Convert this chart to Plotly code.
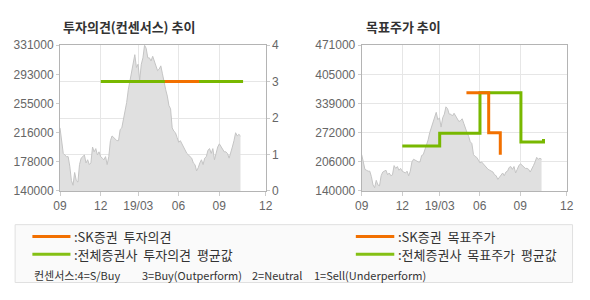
import numpy as np
import plotly.graph_objects as go

# ---------------- data ----------------
# share price (trading-day series, Sep 2018 .. Oct 2019)
price = [222600, 205900, 189200, 187000, 185000, 185000, 172500, 153800, 147500, 164200,
         153800, 151700, 174600, 183000, 185000, 187100, 176700, 180900, 174600, 176700,
         197600, 191300, 195500, 187100, 191300, 185000, 183000, 180900, 185000, 174600,
         185000, 205900, 212100, 210100, 208000, 205900, 205900, 220500, 222600, 233000,
         243400, 255900, 272600, 283000, 295600, 306000, 318500, 301800, 306000, 285100,
         306000, 314300, 331000, 326800, 314300, 314300, 310200, 316400, 310200, 303900,
         297600, 299700, 303900, 293500, 281000, 272600, 264300, 251800, 247600, 222600,
         218400, 216300, 210100, 203800, 205900, 201700, 195500, 191300, 189200, 187100,
         185000, 183000, 176700, 174600, 166300, 170400, 176700, 180900, 174600, 183000,
         185000, 193400, 195500, 189200, 195500, 180900, 189200, 197600, 201700, 197600,
         195500, 191300, 191300, 189200, 183000, 189200, 197600, 205900, 216300, 212100,
         214200, 212100]
price_end_day = 279  # last trading-day index of the price series

# x-axis ticks (trading-day index) and labels
tick_days = [0, 63, 121, 183, 246, 318]
tick_labels = ["09", "12", "19/03", "06", "09", "12"]

# investment opinion (consensus scale 0..4)
sk_op_days = [162, 215]
sk_op_vals = [3, 3]
avg_op_days = [63, 283]
avg_op_vals = [3, 3]

# target price
sk_tp_days = [162.5, 197, 215]
sk_tp_vals = [363000, 272000, 222000]
avg_tp_days = [63, 121, 183.5, 247, 282]
avg_tp_vals = [242000, 271000, 363000, 251000, 258000]

left_price_ticks = [140000, 178000, 216000, 255000, 293000, 331000]
right_price_ticks = [140000, 206000, 272000, 339000, 405000, 471000]
opinion_ticks = [0, 1, 2, 3, 4]

ORANGE = "#f27000"
GREEN = "#78b800"
GREEN_LEG = "#84c014"
AREA_FILL = "#e0e0e0"
AREA_LINE = "#c4c4c4"
GRID = "#e6e6e6"
AXIS = "#b4b4b4"
TICKC = "#666666"

W, H = 590, 300
FONT = "Liberation Sans, Arial, sans-serif"
KFONT = "Noto Sans CJK KR, sans-serif"

x_price = np.linspace(0, price_end_day, len(price))

fig = go.Figure()

# ---- left chart ----
fig.add_trace(go.Scatter(x=x_price, y=price, xaxis="x", yaxis="y",
                         mode="lines", line=dict(color=AREA_LINE, width=1),
                         fill="tozeroy", fillcolor=AREA_FILL, hoverinfo="skip"))
fig.add_trace(go.Scatter(x=avg_op_days, y=avg_op_vals, xaxis="x", yaxis="y2",
                         mode="lines", line=dict(color=GREEN, width=3, shape="hv")))
fig.add_trace(go.Scatter(x=sk_op_days, y=sk_op_vals, xaxis="x", yaxis="y2",
                         mode="lines", line=dict(color=ORANGE, width=3, shape="hv")))

# ---- right chart ----
fig.add_trace(go.Scatter(x=x_price, y=price, xaxis="x2", yaxis="y3",
                         mode="lines", line=dict(color=AREA_LINE, width=1),
                         fill="tozeroy", fillcolor=AREA_FILL, hoverinfo="skip"))
fig.add_trace(go.Scatter(x=avg_tp_days, y=avg_tp_vals, xaxis="x2", yaxis="y3",
                         mode="lines", line=dict(color=GREEN, width=3, shape="hv")))
fig.add_trace(go.Scatter(x=sk_tp_days, y=sk_tp_vals, xaxis="x2", yaxis="y3",
                         mode="lines", line=dict(color=ORANGE, width=3, shape="hv")))

ydom = [1 - 193 / H, 1 - 40 / H]
xdom1 = [54.3 / W, 265 / W]
xdom2 = [363.3 / W, 573.3 / W]

xcommon = dict(range=[tick_days[0], tick_days[-1]], tickmode="array",
               tickvals=tick_days, ticktext=tick_labels, showgrid=True,
               gridcolor=GRID, gridwidth=1, showline=True, linecolor=AXIS,
               linewidth=1, mirror=True, ticks="outside", ticklen=4,
               tickcolor="#cccccc", zeroline=False,
               tickfont=dict(family=FONT, size=12, color=TICKC))


def lp_span(ticks):
    lo, hi = ticks[0], ticks[-1]
    step = (hi - lo) / (len(ticks) - 1)
    return [lo + i * step for i in range(len(ticks))]


fig.update_layout(
    width=W, height=H, margin=dict(l=0, r=0, t=0, b=0),
    paper_bgcolor="white", plot_bgcolor="white", showlegend=False,
    xaxis=dict(domain=xdom1, anchor="y", **xcommon),
    xaxis2=dict(domain=xdom2, anchor="y3", **xcommon),
    yaxis=dict(domain=ydom, anchor="x", range=[left_price_ticks[0], left_price_ticks[-1]],
               tickmode="array", tickvals=lp_span(left_price_ticks),
               ticktext=[str(v) for v in left_price_ticks], showgrid=False,
               showline=True, linecolor=AXIS, zeroline=False, ticks="outside",
               ticklen=3, tickcolor="#cccccc",
               tickfont=dict(family=FONT, size=12, color=TICKC)),
    yaxis2=dict(domain=ydom, anchor="x", overlaying="y", side="right",
                range=[opinion_ticks[0], opinion_ticks[-1]], tickmode="array",
                tickvals=opinion_ticks, ticktext=[str(v) for v in opinion_ticks],
                showgrid=True, gridcolor=GRID, showline=True, linecolor=AXIS,
                zeroline=False, ticks="outside", ticklen=3, tickcolor="#cccccc",
                tickfont=dict(family=FONT, size=12, color=TICKC)),
    yaxis3=dict(domain=ydom, anchor="x2", range=[right_price_ticks[0], right_price_ticks[-1]],
                tickmode="array", tickvals=lp_span(right_price_ticks),
                ticktext=[str(v) for v in right_price_ticks], showgrid=True,
                gridcolor=GRID, showline=True, linecolor=AXIS, mirror=True,
                zeroline=False, ticks="outside", ticklen=3, tickcolor="#cccccc",
                tickfont=dict(family=FONT, size=12, color=TICKC)),
)

ann = []
shapes = []
# titles
ann.append(dict(x=55 / W, y=1 - 20 / H, xref="paper", yref="paper", xanchor="left",
                yanchor="middle", showarrow=False, text="<b>투자의견(컨센서스) 추이</b>",
                font=dict(family=KFONT, size=13, color="#333333")))
ann.append(dict(x=366 / W, y=1 - 20 / H, xref="paper", yref="paper", xanchor="left",
                yanchor="middle", showarrow=False, text="<b>목표주가 추이</b>",
                font=dict(family=KFONT, size=13, color="#333333")))

# legend box
shapes.append(dict(type="rect", xref="paper", yref="paper", x0=8.3 / W, x1=579.3 / W,
                   y0=1 - 289 / H, y1=1 - 228.3 / H, line=dict(color="#e0e0e0", width=1),
                   fillcolor="#fafafa", layer="below"))
legend_items = [
    (26, 65, 240.7, ORANGE, ":SK증권 투자의견"),
    (26, 65, 259.3, GREEN_LEG, ":전체증권사 투자의견 평균값"),
    (357.3, 396.7, 240.7, ORANGE, ":SK증권 목표주가"),
    (357.3, 396.7, 259.3, GREEN_LEG, ":전체증권사 목표주가 평균값"),
]
for x0, x1, yy, col, txt in legend_items:
    shapes.append(dict(type="line", xref="paper", yref="paper", x0=x0 / W, x1=x1 / W,
                       y0=1 - yy / H, y1=1 - yy / H, line=dict(color=col, width=3)))
    ann.append(dict(x=(x1 + 1.5) / W, y=1 - yy / H, xref="paper", yref="paper",
                    xanchor="left", yanchor="middle", showarrow=False,
                    text=txt.replace(" ", "&nbsp; "),
                    font=dict(family=KFONT, size=13, color="#333333")))

scale_notes = [(26, "컨센서스:4=S/Buy"), (136.7, "3=Buy(Outperform)"),
               (248.5, "2=Neutral"), (312, "1=Sell(Underperform)")]
for xx, txt in scale_notes:
    ann.append(dict(x=xx / W, y=1 - 281 / H, xref="paper", yref="paper",
                    xanchor="left", yanchor="middle", showarrow=False, text=txt,
                    font=dict(family=KFONT, size=11, color="#333333")))

fig.update_layout(annotations=ann, shapes=shapes)
fig.write_html("out.html")
